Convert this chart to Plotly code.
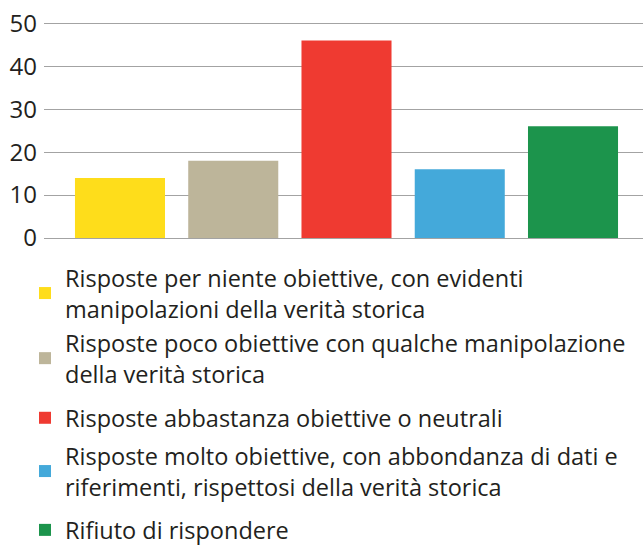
import plotly.graph_objects as go

# Survey answers (share, %)
labels = [
    "Risposte per niente obiettive, con evidenti<br>manipolazioni della verità storica",
    "Risposte poco obiettive con qualche manipolazione<br>della verità storica",
    "Risposte abbastanza obiettive o neutrali",
    "Risposte molto obiettive, con abbondanza di dati e<br>riferimenti, rispettosi della verità storica",
    "Rifiuto di rispondere",
]
values = [14, 18, 46, 16, 26]
bar_colors = ["#FEDD1B", "#BDB59A", "#EF3A31", "#44A9DA", "#1C944C"]
y_ticks = [0, 10, 20, 30, 40, 50]
# which legend box each entry goes in (split so spacing can follow the original)
legend_ids = ["legend", "legend", "legend2", "legend3", "legend3"]

FONT = "'Open Sans', sans-serif"
TEXT = "#231f20"
W, H = 643, 545

fig = go.Figure()
for i, (name, val, col) in enumerate(zip(labels, values, bar_colors)):
    fig.add_trace(go.Bar(
        x=[i], y=[val], name=name, width=0.795,
        marker=dict(color=col, line_width=0),
        legendgroup=str(i), legend=legend_ids[i],
    ))

legend_common = dict(
    orientation="v", xref="container", yref="container",
    x=25 / W, xanchor="left", yanchor="top",
    font=dict(size=23.5, color=TEXT),
    bgcolor="rgba(0,0,0,0)", itemwidth=30,
)

fig.update_layout(
    width=W, height=H,
    margin=dict(l=44, r=0, t=22, b=307, autoexpand=False),
    paper_bgcolor="white", plot_bgcolor="white",
    font=dict(family=FONT, size=24, color=TEXT),
    barmode="overlay",
    showlegend=True,
    legend=dict(legend_common, y=1 - 256 / H, tracegroupgap=1),
    legend2=dict(legend_common, y=1 - 396 / H),
    legend3=dict(legend_common, y=1 - 434 / H, tracegroupgap=10),
    xaxis=dict(range=[-0.671, 4.618], showticklabels=False, showgrid=False,
               zeroline=False, showline=False, fixedrange=True),
    yaxis=dict(range=[0, 50.3], tickvals=y_ticks, showgrid=True,
               gridcolor="#a3a3a3", gridwidth=1.3, zeroline=True,
               zerolinecolor="#a3a3a3", zerolinewidth=1.3,
               showline=False, ticks="", ticklabelstandoff=6,
               ticklabeloverflow="allow",
               tickfont=dict(size=24, color=TEXT)),
)

# drop the default 8px page margin so the figure fills the window
fig.write_html("out.html", config={"displayModeBar": False},
               post_script="document.body.style.margin = '0';")
